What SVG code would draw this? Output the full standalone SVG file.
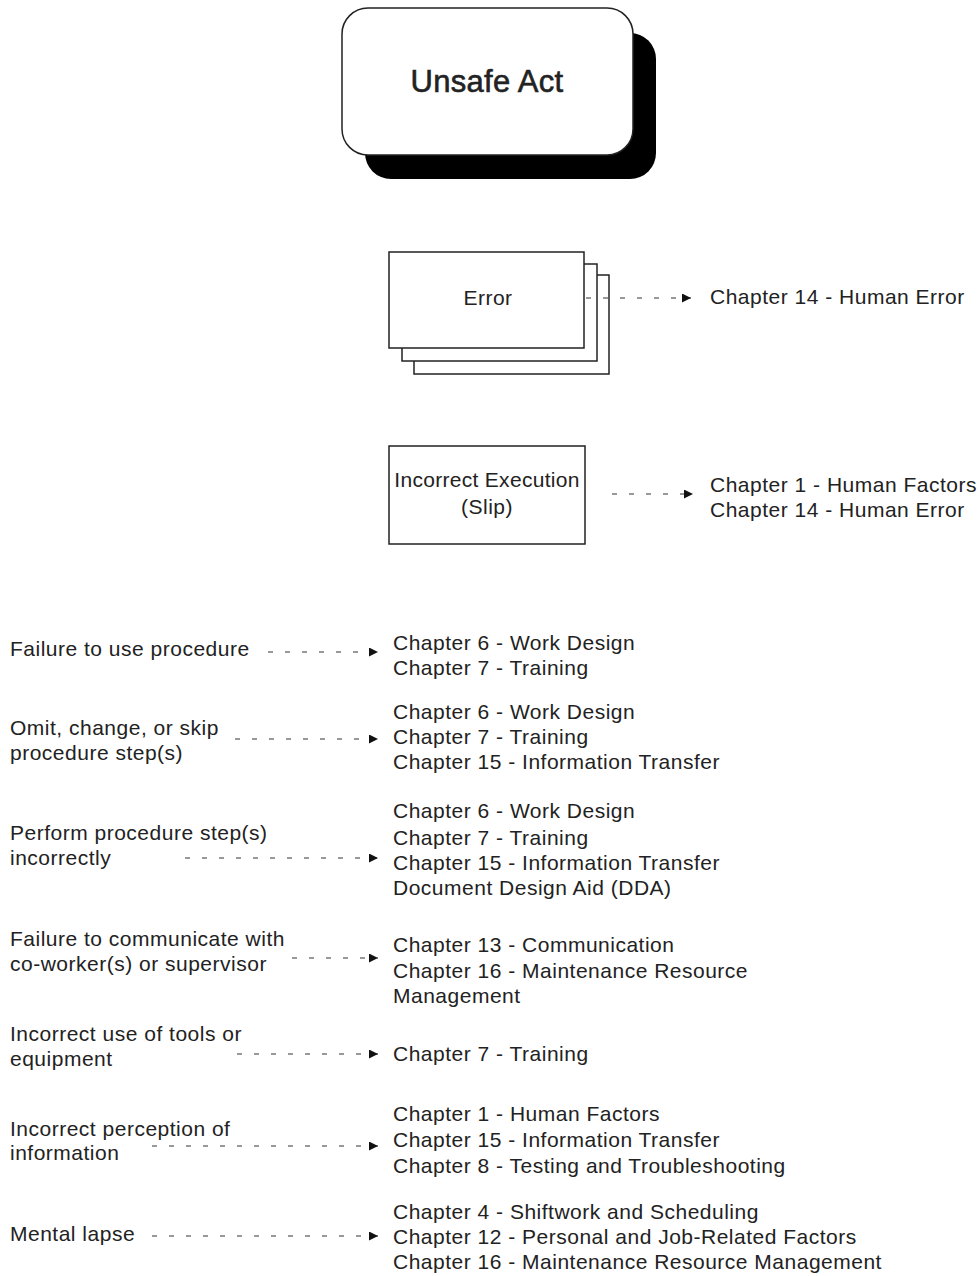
<svg xmlns="http://www.w3.org/2000/svg" width="979" height="1276" viewBox="0 0 979 1276">
  <defs>
    <marker id="arrow" viewBox="0 0 10 10" refX="10" refY="5" markerWidth="10" markerHeight="9" markerUnits="userSpaceOnUse" orient="auto">
      <path d="M0,0 L10,5 L0,10 z" fill="#111"/>
    </marker>
    <style>
      text { font-family: "Liberation Sans", Arial, sans-serif; fill: #222; }
      .t { font-size: 21px; letter-spacing: 0.5px; }
      .title { font-size: 31px; letter-spacing: 0.3px; stroke: #222; stroke-width: 0.6; }
      .box { fill: #fff; stroke: #222; stroke-width: 1.5; }
      .link { fill: none; stroke: #333; stroke-width: 1; stroke-dasharray: 5 12; marker-end: url(#arrow); }
    </style>
  </defs>
  <rect width="979" height="1276" fill="#fff"/>

  <!-- top node with drop shadow -->
  <g id="unsafe-act">
    <rect x="365" y="33" width="291" height="146" rx="26" fill="#000"/>
    <rect x="342" y="8" width="291" height="147" rx="26" class="box"/>
    <text x="487" y="92" text-anchor="middle" class="title">Unsafe Act</text>
  </g>

  <!-- stacked card -->
  <g id="error">
    <rect x="414" y="275" width="195" height="99" class="box"/>
    <rect x="402" y="264" width="195" height="97" class="box"/>
    <rect x="389" y="252" width="195" height="96" class="box"/>
    <text x="488" y="305" text-anchor="middle" class="t">Error</text>
  </g>

  <g id="slip">
    <rect x="389" y="446" width="196" height="98" class="box"/>
    <text x="487" y="487" text-anchor="middle" class="t" style="letter-spacing:0.3px">Incorrect Execution</text>
    <text x="487" y="514" text-anchor="middle" class="t">(Slip)</text>
  </g>

  <!-- connectors -->
  <g id="connectors">
    <line x1="586" y1="298" x2="691" y2="298" class="link"/>
    <line x1="612" y1="494" x2="693" y2="494" class="link"/>
    <line x1="268" y1="652" x2="378" y2="652" class="link"/>
    <line x1="235" y1="739" x2="378" y2="739" class="link"/>
    <line x1="185" y1="858" x2="378" y2="858" class="link"/>
    <line x1="292" y1="958" x2="378" y2="958" class="link"/>
    <line x1="237" y1="1054" x2="378" y2="1054" class="link"/>
    <line x1="152" y1="1146" x2="378" y2="1146" class="link"/>
    <line x1="152" y1="1236" x2="378" y2="1236" class="link"/>
  </g>

  <!-- chapter references -->
  <g id="ref-error">
    <text x="710" y="304" class="t">Chapter 14 - Human Error</text>
  </g>
  <g id="ref-slip">
    <text x="710" y="492" class="t">Chapter 1 - Human Factors</text>
    <text x="710" y="517" class="t">Chapter 14 - Human Error</text>
  </g>

  <g id="failure-to-use">
    <text x="10" y="656" class="t">Failure to use procedure</text>
    <text x="393" y="650" class="t">Chapter 6 - Work Design</text>
    <text x="393" y="675" class="t">Chapter 7 - Training</text>
  </g>

  <g id="omit-steps">
    <text x="10" y="735" class="t">Omit, change, or skip</text>
    <text x="10" y="760" class="t">procedure step(s)</text>
    <text x="393" y="719" class="t">Chapter 6 - Work Design</text>
    <text x="393" y="744" class="t">Chapter 7 - Training</text>
    <text x="393" y="769" class="t">Chapter 15 - Information Transfer</text>
  </g>

  <g id="perform-incorrectly">
    <text x="10" y="840" class="t">Perform procedure step(s)</text>
    <text x="10" y="865" class="t">incorrectly</text>
    <text x="393" y="818" class="t">Chapter 6 - Work Design</text>
    <text x="393" y="845" class="t">Chapter 7 - Training</text>
    <text x="393" y="870" class="t">Chapter 15 - Information Transfer</text>
    <text x="393" y="895" class="t">Document Design Aid (DDA)</text>
  </g>

  <g id="communicate">
    <text x="10" y="946" class="t">Failure to communicate with</text>
    <text x="10" y="971" class="t">co-worker(s) or supervisor</text>
    <text x="393" y="952" class="t">Chapter 13 - Communication</text>
    <text x="393" y="978" class="t">Chapter 16 - Maintenance Resource</text>
    <text x="393" y="1003" class="t">Management</text>
  </g>

  <g id="tools">
    <text x="10" y="1041" class="t">Incorrect use of tools or</text>
    <text x="10" y="1066" class="t">equipment</text>
    <text x="393" y="1061" class="t">Chapter 7 - Training</text>
  </g>

  <g id="perception">
    <text x="10" y="1136" class="t">Incorrect perception of</text>
    <text x="10" y="1160" class="t">information</text>
    <text x="393" y="1121" class="t">Chapter 1 - Human Factors</text>
    <text x="393" y="1147" class="t">Chapter 15 - Information Transfer</text>
    <text x="393" y="1173" class="t">Chapter 8 - Testing and Troubleshooting</text>
  </g>

  <g id="mental-lapse">
    <text x="10" y="1241" class="t">Mental lapse</text>
    <text x="393" y="1219" class="t">Chapter 4 - Shiftwork and Scheduling</text>
    <text x="393" y="1244" class="t">Chapter 12 - Personal and Job-Related Factors</text>
    <text x="393" y="1269" class="t">Chapter 16 - Maintenance Resource Management</text>
  </g>
</svg>
